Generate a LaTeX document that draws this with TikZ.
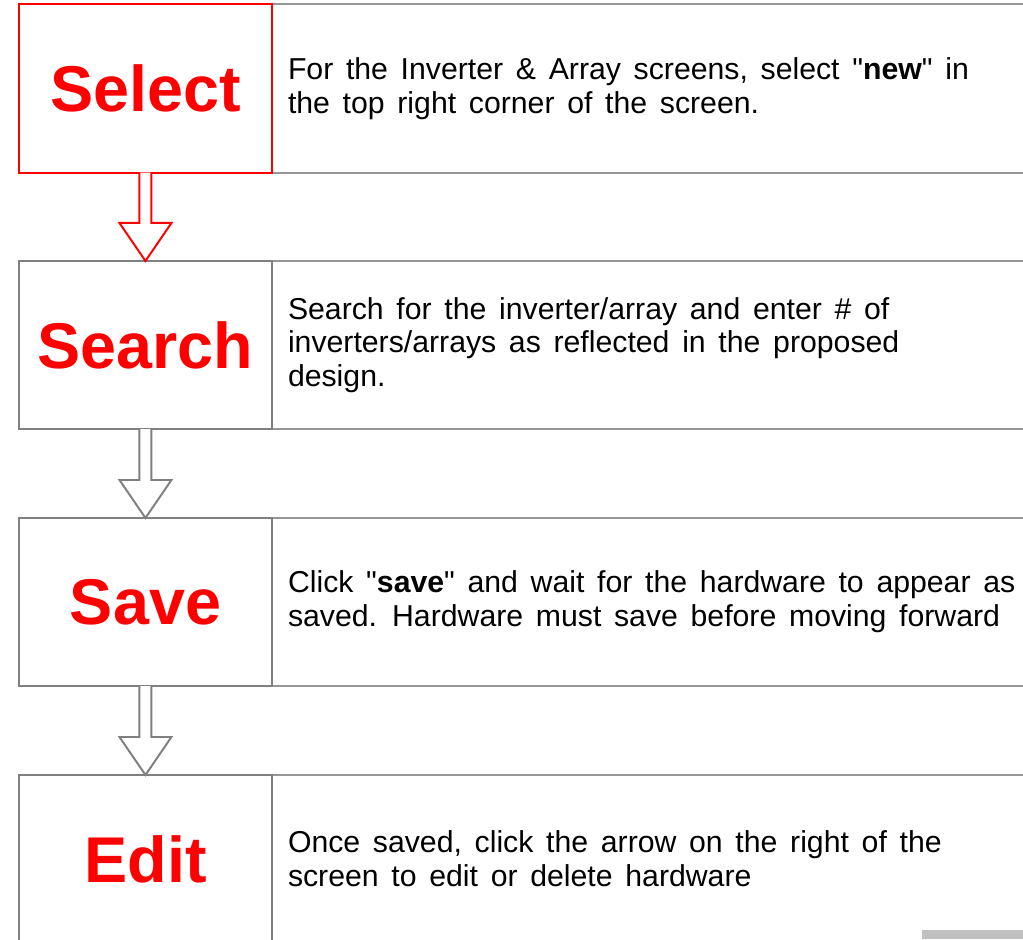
\documentclass[tikz,border=0pt]{standalone}
\usepackage{fontspec}
\setmainfont{Liberation Sans}
\usepackage{tikz}
\usetikzlibrary{positioning}
\usetikzlibrary{calc}
\definecolor{stepred}{RGB}{255,0,0}
\definecolor{stepgray}{RGB}{128,128,128}
\definecolor{rulegray}{RGB}{150,150,150}
\definecolor{tabgray}{RGB}{192,192,192}
\tikzset{
  title/.style={draw=stepgray, line width=1.4pt, fill=white, outer sep=0pt,
    minimum width=6.325cm, minimum height=4.2cm, inner sep=0pt,
    text=stepred, font=\fontsize{46}{55}\selectfont\bfseries},
  info/.style={draw=rulegray, line width=1.4pt, anchor=west, outer sep=0pt,
    minimum height=4.2cm, text width=20cm, inner xsep=0.4cm, align=left,
    font=\fontsize{21.5}{24}\selectfont,
    execute at begin node={\spaceskip=0.42em plus 0.1em\relax}},
  blockarrow/.style={draw=stepgray, line width=1.4pt, fill=white, line join=miter}
}
\newcommand{\blockarrow}[3][]{%
  \draw[blockarrow,#1] ($(#2)+(-6,0)$) -- ($(#3)+(-6,-38)$) -- ($(#3)+(-26,-38)$)
    -- (#3) -- ($(#3)+(26,-38)$) -- ($(#3)+(6,-38)$) -- ($(#2)+(6,0)$);
}
\begin{document}
\begin{tikzpicture}[x=0.025cm, y=-0.025cm]
\clip (0,0) rectangle (1023,939);
\node[info] (selectinfo) at (272,88.5) {For the Inverter \& Array screens, select \textquotedbl\textbf{new}\textquotedbl{} in\\the top right corner of the screen.};
\node[info] (searchinfo) at (272,345) {Search for the inverter/array and enter \# of\\inverters/arrays as reflected in the proposed\\design.};
\node[info] (saveinfo) at (272,602) {Click \textquotedbl\textbf{save}\textquotedbl{} and wait for the hardware to appear as\\saved. Hardware must save before moving forward};
\node[info] (editinfo) at (272,859) {Once saved, click the arrow on the right of the\\screen to edit or delete hardware};
\node[title, draw=stepred, left=0pt of selectinfo] (select) {Select};
\node[title, left=0pt of searchinfo] (search) {Search};
\node[title, left=0pt of saveinfo] (save) {Save};
\node[title, left=0pt of editinfo] (edit) {Edit};
\blockarrow[draw=stepred]{select.south}{search.north}
\blockarrow{search.south}{save.north}
\blockarrow{save.south}{edit.north}
\fill[tabgray] (922,930) rectangle (1023,939);
\end{tikzpicture}
\end{document}
